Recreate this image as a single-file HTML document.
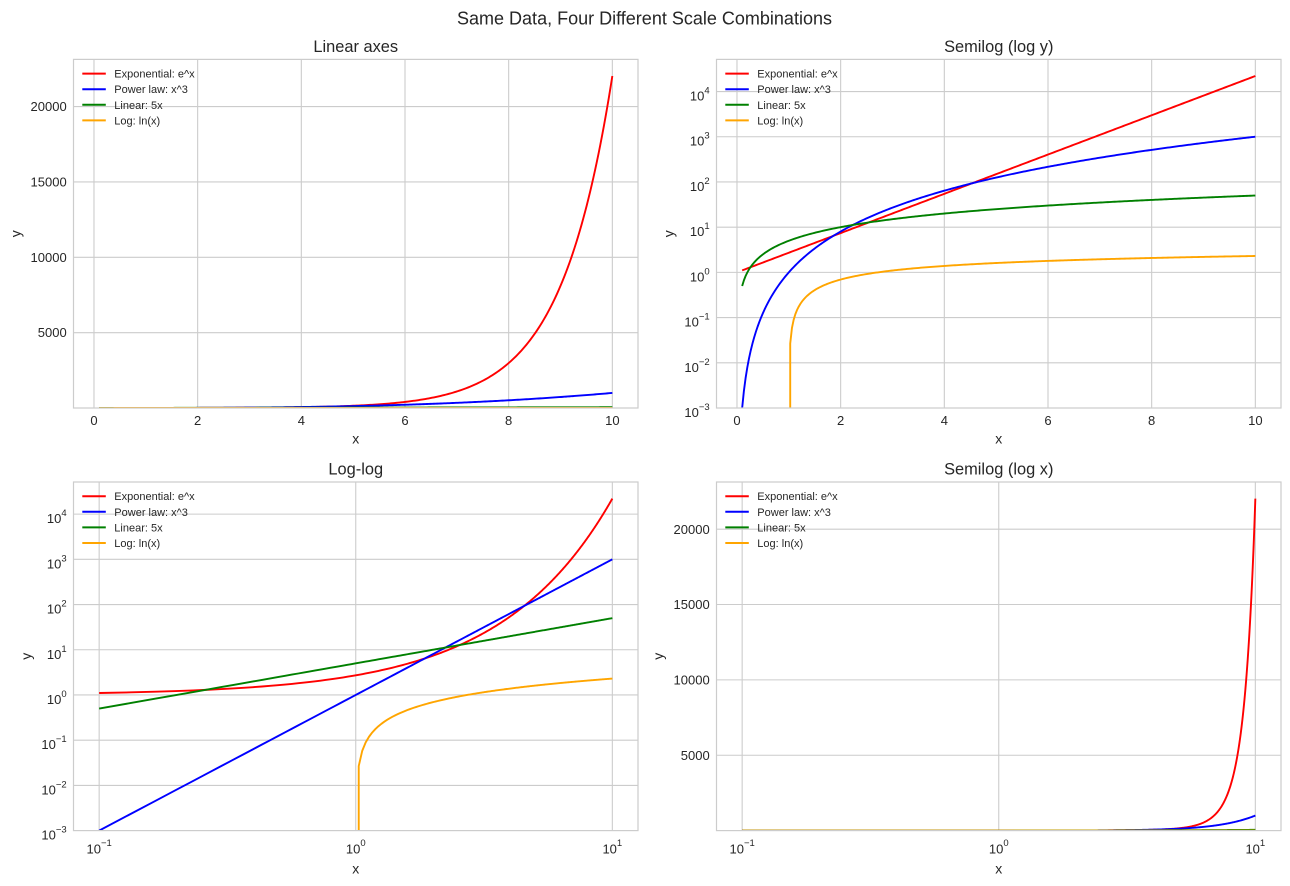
<!DOCTYPE html>
<html>
<head>
<meta charset="utf-8">
<style>
html,body{margin:0;padding:0;background:#fff;width:1290px;height:886px;overflow:hidden;}
svg{display:block;font-family:"Liberation Sans",Arial,sans-serif;}
.t{fill:#262626;font-size:13px;}
.lg{fill:#262626;font-size:11px;}
.ttl{fill:#262626;font-size:16.4px;text-anchor:middle;}
.al{fill:#262626;font-size:14px;text-anchor:middle;}
.gr line{stroke:#cccccc;stroke-width:1.1;}
.sp{fill:none;stroke:#cccccc;stroke-width:1.2;}
</style>
</head>
<body>
<svg id="fig" width="1290" height="886" viewBox="0 0 1290 886" xmlns="http://www.w3.org/2000/svg">
<defs>
<clipPath id="c1"><rect x="73.5" y="59.4" width="564.5" height="348.6"/></clipPath>
<clipPath id="c2"><rect x="716.5" y="59.4" width="564.5" height="348.6"/></clipPath>
<clipPath id="c3"><rect x="73.5" y="482" width="564.5" height="348.6"/></clipPath>
<clipPath id="c4"><rect x="716.5" y="482" width="564.5" height="348.6"/></clipPath>
</defs>
<rect width="1290" height="886" fill="#fff"/>

<text x="644.5" y="24.5" fill="#262626" font-size="18" text-anchor="middle" textLength="375" lengthAdjust="spacingAndGlyphs">Same Data, Four Different Scale Combinations</text>

<!-- grids -->
<g class="gr">
<!-- TL -->
<line x1="93.98" y1="59.4" x2="93.98" y2="408"/><line x1="197.65" y1="59.4" x2="197.65" y2="408"/><line x1="301.32" y1="59.4" x2="301.32" y2="408"/><line x1="405" y1="59.4" x2="405" y2="408"/><line x1="508.67" y1="59.4" x2="508.67" y2="408"/><line x1="612.35" y1="59.4" x2="612.35" y2="408"/>
<line x1="73.5" y1="332.64" x2="638" y2="332.64"/><line x1="73.5" y1="257.27" x2="638" y2="257.27"/><line x1="73.5" y1="181.91" x2="638" y2="181.91"/><line x1="73.5" y1="106.55" x2="638" y2="106.55"/>
<!-- TR -->
<line x1="736.98" y1="59.4" x2="736.98" y2="408"/><line x1="840.65" y1="59.4" x2="840.65" y2="408"/><line x1="944.32" y1="59.4" x2="944.32" y2="408"/><line x1="1048" y1="59.4" x2="1048" y2="408"/><line x1="1151.67" y1="59.4" x2="1151.67" y2="408"/><line x1="1255.35" y1="59.4" x2="1255.35" y2="408"/>
<line x1="716.5" y1="362.79" x2="1281" y2="362.79"/><line x1="716.5" y1="317.58" x2="1281" y2="317.58"/><line x1="716.5" y1="272.37" x2="1281" y2="272.37"/><line x1="716.5" y1="227.16" x2="1281" y2="227.16"/><line x1="716.5" y1="181.95" x2="1281" y2="181.95"/><line x1="716.5" y1="136.74" x2="1281" y2="136.74"/><line x1="716.5" y1="91.53" x2="1281" y2="91.53"/>
<!-- BL -->
<line x1="99.16" y1="482" x2="99.16" y2="830.6"/><line x1="355.75" y1="482" x2="355.75" y2="830.6"/><line x1="612.34" y1="482" x2="612.34" y2="830.6"/>
<line x1="73.5" y1="785.39" x2="638" y2="785.39"/><line x1="73.5" y1="740.18" x2="638" y2="740.18"/><line x1="73.5" y1="694.97" x2="638" y2="694.97"/><line x1="73.5" y1="649.76" x2="638" y2="649.76"/><line x1="73.5" y1="604.55" x2="638" y2="604.55"/><line x1="73.5" y1="559.34" x2="638" y2="559.34"/><line x1="73.5" y1="514.13" x2="638" y2="514.13"/>
<!-- BR -->
<line x1="742.16" y1="482" x2="742.16" y2="830.6"/><line x1="998.75" y1="482" x2="998.75" y2="830.6"/><line x1="1255.34" y1="482" x2="1255.34" y2="830.6"/>
<line x1="716.5" y1="755.24" x2="1281" y2="755.24"/><line x1="716.5" y1="679.87" x2="1281" y2="679.87"/><line x1="716.5" y1="604.51" x2="1281" y2="604.51"/><line x1="716.5" y1="529.15" x2="1281" y2="529.15"/>
</g>

<!-- data -->
<g id="g1" clip-path="url(#c1)"></g>
<g id="g2" clip-path="url(#c2)"></g>
<g id="g3" clip-path="url(#c3)"></g>
<g id="g4" clip-path="url(#c4)"></g>

<!-- spines -->
<rect class="sp" x="73.5" y="59.4" width="564.5" height="348.6"/>
<rect class="sp" x="716.5" y="59.4" width="564.5" height="348.6"/>
<rect class="sp" x="73.5" y="482" width="564.5" height="348.6"/>
<rect class="sp" x="716.5" y="482" width="564.5" height="348.6"/>

<!-- titles -->
<text class="ttl" x="355.75" y="52">Linear axes</text>
<text class="ttl" x="998.75" y="52">Semilog (log y)</text>
<text class="ttl" x="355.75" y="474.7">Log-log</text>
<text class="ttl" x="998.75" y="474.7">Semilog (log x)</text>

<!-- axis labels -->
<text class="al" x="355.75" y="443.5">x</text>
<text class="al" x="998.75" y="443.5">x</text>
<text class="al" x="355.75" y="873.5">x</text>
<text class="al" x="998.75" y="873.5">x</text>
<text class="al" transform="translate(20.3,233.7) rotate(-90)">y</text>
<text class="al" transform="translate(673.5,233.7) rotate(-90)">y</text>
<text class="al" transform="translate(31.2,656.3) rotate(-90)">y</text>
<text class="al" transform="translate(663,656.3) rotate(-90)">y</text>

<!-- ticks -->
<g class="t" text-anchor="middle">
<text x="93.98" y="425">0</text><text x="197.65" y="425">2</text><text x="301.32" y="425">4</text><text x="405" y="425">6</text><text x="508.67" y="425">8</text><text x="612.35" y="425">10</text>
<text x="736.98" y="425">0</text><text x="840.65" y="425">2</text><text x="944.32" y="425">4</text><text x="1048" y="425">6</text><text x="1151.67" y="425">8</text><text x="1255.35" y="425">10</text>
<text x="99.16" y="853.3">10<tspan dy="-7.5" font-size="9.5">−1</tspan></text>
<text x="355.75" y="853.3">10<tspan dy="-7.5" font-size="9.5">0</tspan></text>
<text x="612.34" y="853.3">10<tspan dy="-7.5" font-size="9.5">1</tspan></text>
<text x="742.16" y="853.3">10<tspan dy="-7.5" font-size="9.5">−1</tspan></text>
<text x="998.75" y="853.3">10<tspan dy="-7.5" font-size="9.5">0</tspan></text>
<text x="1255.34" y="853.3">10<tspan dy="-7.5" font-size="9.5">1</tspan></text>
</g>
<g class="t" text-anchor="end">
<text x="66.7" y="337.2">5000</text><text x="66.7" y="261.9">10000</text><text x="66.7" y="186.5">15000</text><text x="66.7" y="111.1">20000</text>
<text x="709.7" y="759.8">5000</text><text x="709.7" y="684.5">10000</text><text x="709.7" y="609.1">15000</text><text x="709.7" y="533.8">20000</text>

<text x="709.7" y="417">10<tspan dy="-7" font-size="9.5">−3</tspan></text>
<text x="709.7" y="371.8">10<tspan dy="-7" font-size="9.5">−2</tspan></text>
<text x="709.7" y="326.6">10<tspan dy="-7" font-size="9.5">−1</tspan></text>
<text x="709.7" y="281.4">10<tspan dy="-7" font-size="9.5">0</tspan></text>
<text x="709.7" y="236.2">10<tspan dy="-7" font-size="9.5">1</tspan></text>
<text x="709.7" y="191">10<tspan dy="-7" font-size="9.5">2</tspan></text>
<text x="709.7" y="145.7">10<tspan dy="-7" font-size="9.5">3</tspan></text>
<text x="709.7" y="100.5">10<tspan dy="-7" font-size="9.5">4</tspan></text>

<text x="66.7" y="839.6">10<tspan dy="-7" font-size="9.5">−3</tspan></text>
<text x="66.7" y="794.4">10<tspan dy="-7" font-size="9.5">−2</tspan></text>
<text x="66.7" y="749.2">10<tspan dy="-7" font-size="9.5">−1</tspan></text>
<text x="66.7" y="704">10<tspan dy="-7" font-size="9.5">0</tspan></text>
<text x="66.7" y="658.8">10<tspan dy="-7" font-size="9.5">1</tspan></text>
<text x="66.7" y="613.6">10<tspan dy="-7" font-size="9.5">2</tspan></text>
<text x="66.7" y="568.3">10<tspan dy="-7" font-size="9.5">3</tspan></text>
<text x="66.7" y="523.1">10<tspan dy="-7" font-size="9.5">4</tspan></text>
</g>

<!-- legends -->
<g stroke-width="2">
<line x1="82.3" y1="73.6" x2="105.8" y2="73.6" stroke="#ff0000"/><line x1="82.3" y1="89.2" x2="105.8" y2="89.2" stroke="#0000ff"/><line x1="82.3" y1="104.8" x2="105.8" y2="104.8" stroke="#008000"/><line x1="82.3" y1="120.4" x2="105.8" y2="120.4" stroke="#ffa500"/>
<line x1="725.3" y1="73.6" x2="748.8" y2="73.6" stroke="#ff0000"/><line x1="725.3" y1="89.2" x2="748.8" y2="89.2" stroke="#0000ff"/><line x1="725.3" y1="104.8" x2="748.8" y2="104.8" stroke="#008000"/><line x1="725.3" y1="120.4" x2="748.8" y2="120.4" stroke="#ffa500"/>
<line x1="82.3" y1="496.2" x2="105.8" y2="496.2" stroke="#ff0000"/><line x1="82.3" y1="511.8" x2="105.8" y2="511.8" stroke="#0000ff"/><line x1="82.3" y1="527.4" x2="105.8" y2="527.4" stroke="#008000"/><line x1="82.3" y1="543" x2="105.8" y2="543" stroke="#ffa500"/>
<line x1="725.3" y1="496.2" x2="748.8" y2="496.2" stroke="#ff0000"/><line x1="725.3" y1="511.8" x2="748.8" y2="511.8" stroke="#0000ff"/><line x1="725.3" y1="527.4" x2="748.8" y2="527.4" stroke="#008000"/><line x1="725.3" y1="543" x2="748.8" y2="543" stroke="#ffa500"/>
</g>
<g class="lg">
<text x="114.3" y="77.6">Exponential: e^x</text><text x="114.3" y="93.2">Power law: x^3</text><text x="114.3" y="108.8">Linear: 5x</text><text x="114.3" y="124.4">Log: ln(x)</text>
<text x="757.3" y="77.6">Exponential: e^x</text><text x="757.3" y="93.2">Power law: x^3</text><text x="757.3" y="108.8">Linear: 5x</text><text x="757.3" y="124.4">Log: ln(x)</text>
<text x="114.3" y="500.2">Exponential: e^x</text><text x="114.3" y="515.8">Power law: x^3</text><text x="114.3" y="531.4">Linear: 5x</text><text x="114.3" y="547">Log: ln(x)</text>
<text x="757.3" y="500.2">Exponential: e^x</text><text x="757.3" y="515.8">Power law: x^3</text><text x="757.3" y="531.4">Linear: 5x</text><text x="757.3" y="547">Log: ln(x)</text>
</g>
</svg>
<script>
(function(){
var N=300,xs=[];
for(var i=0;i<N;i++){xs.push(0.1+i*9.9/(N-1));}
var fs=[function(x){return Math.exp(x);},function(x){return x*x*x;},function(x){return 5*x;},function(x){return Math.log(x);}];
var cols=['#ff0000','#0000ff','#008000','#ffa500'];
var P=[
 {g:'g1',L:73.5,R:638,T:59.4,B:408,xl:0,yl:0},
 {g:'g2',L:716.5,R:1281,T:59.4,B:408,xl:0,yl:1},
 {g:'g3',L:73.5,R:638,T:482,B:830.6,xl:1,yl:1},
 {g:'g4',L:716.5,R:1281,T:482,B:830.6,xl:1,yl:0}];
function mx(p,x){
  if(p.xl){return p.L+(Math.log(x)/Math.LN10+1.1)/2.2*(p.R-p.L);}
  return p.L+(x+0.395)/10.89*(p.R-p.L);
}
var ns='http://www.w3.org/2000/svg';
P.forEach(function(p){
  var g=document.getElementById(p.g);
  fs.forEach(function(f,k){
    var pts=[],clip=[];
    for(var i=0;i<N;i++){
      var y=f(xs[i]),X=mx(p,xs[i]),Y,c=false;
      if(p.yl){
        if(y>0){var v=Math.log(y)/Math.LN10; Y=p.B-(v+3)/7.71*(p.B-p.T); if(Y>p.B+4){Y=p.B+4;}}
        else{Y=p.B+4;c=true;}
      } else {
        Y=p.B-(y-0.001)/23128*(p.B-p.T);
        if(Y>p.B+4)Y=p.B+4;
      }
      pts.push([X,Y]);clip.push(c);
    }
    // make transitions from clipped (non-positive) to positive vertical
    for(var i=0;i<N;i++){
      if(clip[i]){
        if(i+1<N && !clip[i+1]) pts[i][0]=pts[i+1][0];
        else if(i-1>=0 && !clip[i-1]) pts[i][0]=pts[i-1][0];
      }
    }
    var d='';
    for(var i=0;i<N;i++){d+=(i?'L':'M')+pts[i][0].toFixed(2)+' '+pts[i][1].toFixed(2);}
    var pa=document.createElementNS(ns,'path');
    pa.setAttribute('d',d);
    pa.setAttribute('fill','none');
    pa.setAttribute('stroke',cols[k]);
    pa.setAttribute('stroke-width','1.9');
    pa.setAttribute('stroke-linejoin','round');
    pa.setAttribute('stroke-linecap','butt');
    g.appendChild(pa);
  });
});
})();
</script>
</body>
</html>
